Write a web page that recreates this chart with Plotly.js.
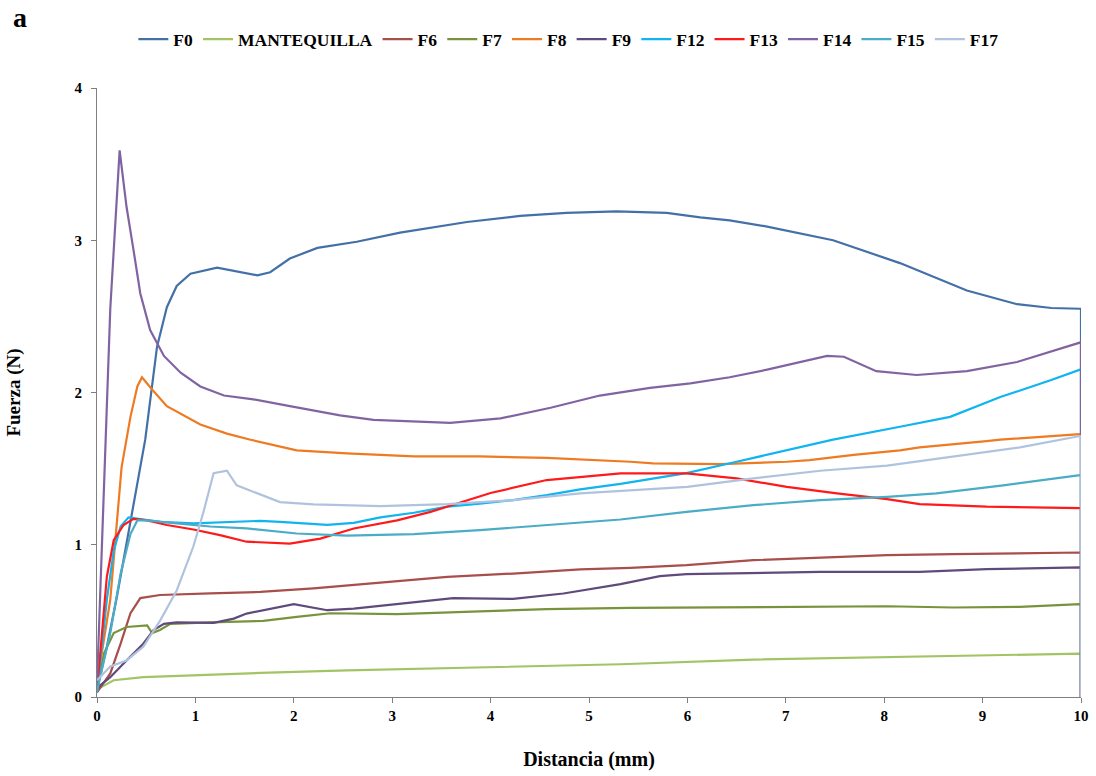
<!DOCTYPE html>
<html>
<head>
<meta charset="utf-8">
<script src="https://cdn.plot.ly/plotly-3.0.1.min.js"></script>
<style>html,body{margin:0;padding:0;background:#fff;}#chart{width:1096px;height:776px;}</style>
</head>
<body>
<div id="chart"></div>
<script>
// Series names (legend order)
const seriesNames = ["F0","MANTEQUILLA","F6","F7","F8","F9","F12","F13","F14","F15","F17"];

// Distance (mm) and force (N) values
const f0X = [0, 0.1, 0.2, 0.3, 0.49, 0.61, 0.71, 0.81, 0.95, 1.22, 1.49, 1.63, 1.76, 1.96, 2.24, 2.64, 3.08, 3.28, 3.76, 4.3, 4.77, 5.28, 5.79, 6.13, 6.43, 6.81, 7.48, 8.16, 8.84, 9.35, 9.7, 9.99, 10, 10];
const f0Y = [0.05, 0.33, 0.65, 1.0, 1.69, 2.3, 2.56, 2.70, 2.78, 2.82, 2.785, 2.77, 2.79, 2.88, 2.95, 2.99, 3.05, 3.07, 3.12, 3.16, 3.18, 3.19, 3.18, 3.15, 3.13, 3.09, 3.0, 2.85, 2.67, 2.58, 2.555, 2.55, 2.55, 0];

const mantX = [0, 0.17, 0.47, 0.98, 1.66, 2.54, 4.23, 5.32, 6.67, 8.03, 9.99, 10, 10];
const mantY = [0.05, 0.11, 0.13, 0.143, 0.158, 0.175, 0.197, 0.215, 0.246, 0.263, 0.285, 0.285, 0];

const f6X = [0, 0.135, 0.24, 0.34, 0.44, 0.64, 1.15, 1.66, 2.2, 2.88, 3.56, 4.23, 4.91, 5.42, 5.99, 6.67, 7.35, 8.03, 8.70, 9.99, 10, 10];
const f6Y = [0.03, 0.155, 0.35, 0.55, 0.65, 0.67, 0.68, 0.69, 0.713, 0.75, 0.789, 0.811, 0.838, 0.848, 0.866, 0.899, 0.917, 0.932, 0.938, 0.949, 0.949, 0];

const f7X = [0, 0.07, 0.17, 0.30, 0.51, 0.56, 0.64, 0.745, 1.15, 1.69, 2.03, 2.37, 3.05, 3.89, 4.57, 5.42, 6.67, 8.03, 8.70, 9.38, 9.99, 10, 10];
const f7Y = [0.04, 0.285, 0.42, 0.46, 0.47, 0.42, 0.44, 0.48, 0.49, 0.50, 0.526, 0.55, 0.544, 0.563, 0.577, 0.585, 0.592, 0.596, 0.588, 0.592, 0.61, 0.61, 0];

const f8X = [0, 0.135, 0.25, 0.34, 0.41, 0.457, 0.56, 0.71, 1.05, 1.32, 1.56, 2.03, 2.54, 3.22, 3.89, 4.57, 5.42, 5.65, 6.33, 7.01, 7.24, 7.69, 8.16, 8.36, 9.04, 9.18, 9.99, 10, 10];
const f8Y = [0.09, 0.64, 1.51, 1.84, 2.04, 2.10, 2.02, 1.91, 1.79, 1.73, 1.69, 1.62, 1.60, 1.58, 1.58, 1.57, 1.545, 1.535, 1.53, 1.545, 1.556, 1.59, 1.62, 1.64, 1.68, 1.69, 1.727, 1.727, 0];

const f9X = [0, 0.135, 0.30, 0.47, 0.575, 0.68, 0.81, 1.185, 1.39, 1.52, 2.0, 2.34, 2.61, 3.05, 3.62, 4.23, 4.74, 5.32, 5.72, 5.99, 6.67, 7.35, 8.36, 9.04, 9.99, 10, 10];
const f9Y = [0.06, 0.13, 0.24, 0.35, 0.44, 0.48, 0.49, 0.487, 0.515, 0.548, 0.61, 0.57, 0.58, 0.61, 0.65, 0.644, 0.68, 0.741, 0.794, 0.807, 0.815, 0.822, 0.822, 0.84, 0.851, 0.851, 0];

const f12X = [0, 0.10, 0.17, 0.24, 0.32, 0.44, 0.64, 0.98, 1.32, 1.66, 1.86, 2.34, 2.61, 2.88, 3.22, 3.56, 3.89, 4.23, 4.57, 4.91, 5.32, 5.99, 6.50, 7.01, 7.48, 8.16, 8.67, 9.18, 9.69, 9.99, 10, 10];
const f12Y = [0.03, 0.64, 0.96, 1.12, 1.18, 1.17, 1.15, 1.14, 1.15, 1.157, 1.15, 1.13, 1.144, 1.18, 1.21, 1.25, 1.27, 1.293, 1.326, 1.364, 1.40, 1.47, 1.545, 1.62, 1.69, 1.775, 1.84, 1.97, 2.08, 2.15, 2.15, 0];

const f13X = [0, 0.05, 0.10, 0.17, 0.27, 0.37, 0.51, 0.71, 0.98, 1.25, 1.52, 1.96, 2.27, 2.61, 3.05, 3.39, 3.66, 4.0, 4.57, 5.32, 5.99, 6.50, 7.01, 7.52, 8.03, 8.36, 9.04, 9.99, 10, 10];
const f13Y = [0.04, 0.42, 0.79, 1.03, 1.13, 1.17, 1.16, 1.13, 1.10, 1.063, 1.02, 1.008, 1.04, 1.107, 1.16, 1.216, 1.27, 1.34, 1.425, 1.469, 1.469, 1.436, 1.38, 1.337, 1.30, 1.267, 1.25, 1.24, 1.24, 0];

const f14X = [0, 0.05, 0.135, 0.23, 0.30, 0.37, 0.44, 0.54, 0.68, 0.85, 1.05, 1.29, 1.59, 1.96, 2.47, 2.81, 3.28, 3.59, 4.10, 4.61, 5.11, 5.62, 6.03, 6.43, 6.81, 7.42, 7.59, 7.92, 8.33, 8.84, 9.35, 9.99, 10, 10];
const f14Y = [0.08, 1.0, 2.55, 3.59, 3.22, 2.94, 2.65, 2.41, 2.24, 2.13, 2.04, 1.98, 1.955, 1.91, 1.85, 1.82, 1.81, 1.80, 1.83, 1.90, 1.98, 2.03, 2.06, 2.10, 2.15, 2.24, 2.235, 2.14, 2.115, 2.14, 2.20, 2.33, 2.33, 0];

const f15X = [0, 0.135, 0.24, 0.34, 0.41, 0.51, 0.81, 1.15, 1.52, 2.03, 2.54, 3.22, 3.89, 4.57, 5.32, 5.99, 6.67, 7.35, 8.03, 8.53, 9.21, 9.99, 10, 10];
const f15Y = [0.04, 0.42, 0.81, 1.07, 1.16, 1.16, 1.14, 1.12, 1.107, 1.074, 1.06, 1.07, 1.096, 1.13, 1.166, 1.216, 1.26, 1.293, 1.315, 1.337, 1.39, 1.457, 1.457, 0];

const f17X = [0, 0.135, 0.30, 0.47, 0.64, 0.81, 0.98, 1.08, 1.185, 1.25, 1.32, 1.42, 1.66, 1.86, 2.20, 2.88, 3.56, 4.23, 4.91, 5.32, 6.0, 6.67, 7.35, 8.03, 8.70, 9.38, 9.99, 10, 10];
const f17Y = [0.11, 0.20, 0.24, 0.33, 0.50, 0.70, 0.99, 1.21, 1.47, 1.48, 1.486, 1.39, 1.33, 1.28, 1.265, 1.254, 1.267, 1.293, 1.337, 1.354, 1.38, 1.436, 1.486, 1.52, 1.578, 1.64, 1.714, 1.714, 0];

const xValues = [f0X, mantX, f6X, f7X, f8X, f9X, f12X, f13X, f14X, f15X, f17X];
const yValues = [f0Y, mantY, f6Y, f7Y, f8Y, f9Y, f12Y, f13Y, f14Y, f15Y, f17Y];
const colors = ["#4470A8", "#A2C465", "#A84E4B", "#77933C", "#EE7A22", "#604A7B", "#10B4F0", "#FF1A1A", "#8064A2", "#4BACC6", "#AFC3DF"];

const xTicks = [0,1,2,3,4,5,6,7,8,9,10];
const yTicks = [0,1,2,3,4];

const serif = "Liberation Serif";

const traces = seriesNames.map((name, i) => ({
  type: 'scatter',
  mode: 'lines',
  name: name,
  x: xValues[i],
  y: yValues[i],
  line: {color: colors[i], width: 2.2, shape: 'linear'}
}));

const layout = {
  width: 1096,
  height: 776,
  paper_bgcolor: '#ffffff',
  plot_bgcolor: '#ffffff',
  margin: {l: 97, r: 15, t: 88, b: 79},
  font: {family: serif, color: '#000000'},
  showlegend: true,
  legend: {
    orientation: 'h',
    x: 0.479, xanchor: 'center',
    y: 1.08, yanchor: 'middle',
    font: {family: serif, size: 17.5, color: '#000000', weight: 'bold'},
    itemwidth: 30,
    tracegroupgap: 0
  },
  xaxis: {
    range: [0, 10],
    tickvals: xTicks,
    ticktext: xTicks.map(String),
    showgrid: false,
    zeroline: false,
    showline: true,
    linecolor: '#7f7f7f',
    linewidth: 1,
    ticks: 'outside',
    ticklen: 5,
    tickcolor: '#7f7f7f',
    tickfont: {family: serif, size: 15, color: '#000000', weight: 'bold'},
    title: {text: 'Distancia (mm)', font: {family: serif, size: 20, color: '#000000', weight: 'bold'}, standoff: 28}
  },
  yaxis: {
    range: [0, 4],
    tickvals: yTicks,
    ticktext: yTicks.map(String),
    showgrid: false,
    zeroline: false,
    showline: true,
    linecolor: '#7f7f7f',
    linewidth: 1,
    ticks: 'outside',
    ticklen: 5,
    tickcolor: '#7f7f7f',
    ticklabelstandoff: 6,
    tickfont: {family: serif, size: 15, color: '#000000', weight: 'bold'},
    title: {text: 'Fuerza (N)', font: {family: serif, size: 19, color: '#000000', weight: 'bold'}, standoff: 48}
  },
  annotations: [{
    text: 'a',
    xref: 'paper', yref: 'paper',
    x: -0.078, y: 1.116,
    xanchor: 'center', yanchor: 'middle',
    showarrow: false,
    font: {family: serif, size: 28, color: '#000000', weight: 'bold'}
  }]
};

Plotly.newPlot('chart', traces, layout, {displayModeBar: false, staticPlot: true});
</script>
</body>
</html>
